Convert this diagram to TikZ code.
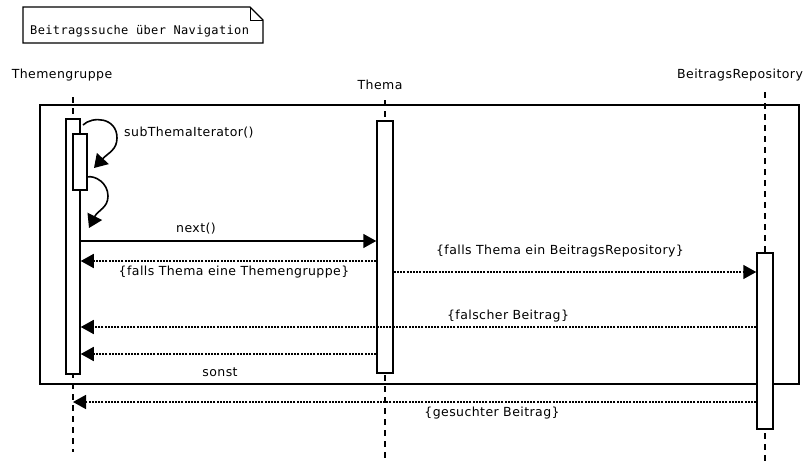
\documentclass[tikz,border=0pt]{standalone}
\usepackage{fontspec}
\usetikzlibrary{arrows.meta}
\newfontfamily\lblfont[LetterSpace=3.5]{DejaVu Sans}
\newfontfamily\notefont[LetterSpace=3]{DejaVu Sans Mono}
\tikzset{
  lbl/.style={font=\lblfont\fontsize{12.5}{14}\selectfont, inner sep=0pt},
  lifeline/.style={line width=1.1pt, dash pattern=on 6pt off 5pt},
  act/.style={draw, fill=white, line width=1.5pt, inner sep=0pt, minimum width=14pt},
  tip/.style={-{Triangle[length=13pt,width=14pt]}},
  syncmsg/.style={line width=1.6pt, tip},
  retmsg/.style={line width=1.6pt, dash pattern=on 2pt off 1.2pt, tip},
  selfmsg/.style={line width=1.6pt, -{Triangle[length=13pt,width=16pt]}},
}
\begin{document}
\begin{tikzpicture}[x=1pt,y=-1pt]
\useasboundingbox (0,0) rectangle (806,463);
% note
\node[font=\notefont\fontsize{12}{14}\selectfont, inner sep=0pt, anchor=west] (note) at (30,31) {Beitragssuche über Navigation};
\draw[line width=1.3pt] (23,7) -- (250,7) -- (263,20) -- (263,43) -- (23,43) -- cycle;
\draw[line width=0.8pt] (250,7) -- (250,20) -- (263,20);
% heads
\node[lbl] (tgHead) at (62,75) {Themengruppe};
\node[lbl] (thHead) at (380,85) {Thema};
\node[lbl] (repHead) at (740,75) {BeitragsRepository};
\coordinate (tgTop) at (73,97);
\coordinate (tgBot) at (73,452);
\coordinate (thTop) at (385,100);
\coordinate (thBot) at (385,460);
\coordinate (repTop) at (765,92);
\coordinate (repBot) at (765,463);
\draw[lifeline] (tgTop) -- (tgBot);
\draw[lifeline] (thTop) -- (thBot);
\draw[lifeline] (repTop) -- (repBot);
% frame
\node[draw, line width=1.6pt, inner sep=0pt, minimum width=759pt, minimum height=279pt, anchor=north west] (frame) at (39,104) {};
% activations
\node[act, minimum height=255pt] (tgA) at (73,246.5) {};
\node[act, minimum height=56pt] (tgB) at (80,162) {};
\node[act, minimum width=16pt, minimum height=252pt] (thA) at (385,247) {};
\node[act, minimum width=16pt, minimum height=176pt] (repA) at (765,341) {};
% self calls
\coordinate (l1s) at (83,125);
\coordinate (l1e) at (94,168);
\coordinate (l2s) at (87,177);
\coordinate (l2e) at (89,228);
\draw[selfmsg] (l1s) .. controls (92,116) and (117,117) .. (117,138) .. controls (117,150) and (108,153) .. (l1e);
\node[lbl, anchor=west] (subLbl) at (124,133) {subThemaIterator()};
\draw[selfmsg] (l2s) .. controls (95,175) and (108,183) .. (108,196) .. controls (108,208) and (98,210) .. (l2e);
% messages
\draw[syncmsg] (tgA.east |- 0,241) -- (thA.west |- 0,241);
\node[lbl] (nextLbl) at (196,229) {next()};
\draw[retmsg] (thA.west |- 0,261) -- (tgA.east |- 0,261);
\node[lbl] (r1Lbl) at (234,272) {\{falls Thema eine Themengruppe\}};
\draw[retmsg] (thA.east |- 0,272) -- (repA.west |- 0,272);
\node[lbl] (r2Lbl) at (560,251) {\{falls Thema ein BeitragsRepository\}};
\draw[retmsg] (repA.west |- 0,327) -- (tgA.east |- 0,327);
\node[lbl] (fbLbl) at (508,316) {\{falscher Beitrag\}};
\draw[retmsg] (thA.west |- 0,354) -- (tgA.east |- 0,354);
\node[lbl] (sonstLbl) at (220,372) {sonst};
\draw[retmsg] (repA.west |- 0,402) -- (tgTop |- 0,402);
\node[lbl] (gbLbl) at (492,413) {\{gesuchter Beitrag\}};
\end{tikzpicture}
\end{document}
